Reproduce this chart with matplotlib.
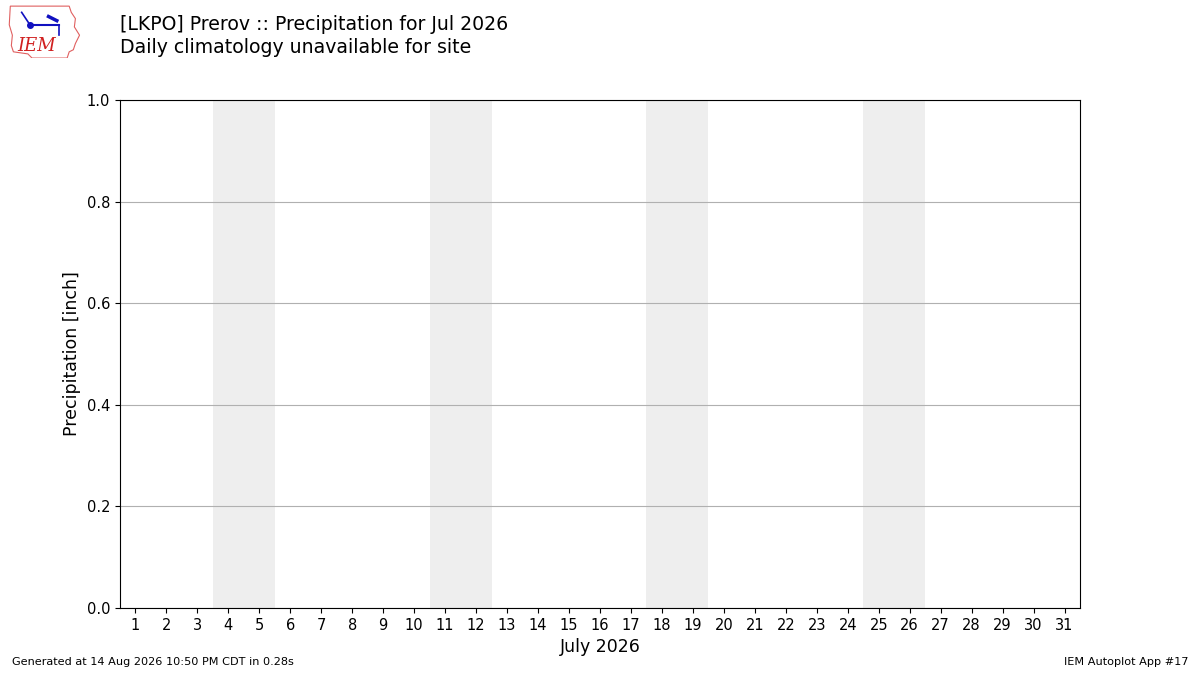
import numpy as np
import matplotlib
matplotlib.use("Agg")
import matplotlib.pyplot as plt
from matplotlib.patches import Polygon

# data: no observations available for the month
days = list(range(1, 32))
precip = [np.nan] * 31
weekend_starts = [4, 11, 18, 25]
yticks = [0.0, 0.2, 0.4, 0.6, 0.8, 1.0]

title = "[LKPO] Prerov :: Precipitation for Jul 2026\nDaily climatology unavailable for site"
footer_left = "Generated at 14 Aug 2026 10:50 PM CDT in 0.28s"
footer_right = "IEM Autoplot App #17"

fig = plt.figure(figsize=(12, 6.75), dpi=100)
ax = fig.add_axes([0.1, 0.0993, 0.8, 0.7526])

for d in weekend_starts:
    ax.axvspan(d - 0.5, d + 1.5, color="#eeeeee", zorder=0, lw=0)

ax.bar(days, precip, color="b", zorder=2)

ax.set_xlim(0.5, 31.5)
ax.set_ylim(0, 1.0)
ax.set_xticks(days)
ax.set_xticklabels([str(d) for d in days])
ax.set_yticks(yticks)
ax.tick_params(labelsize=10.5)
ax.yaxis.grid(True, color="#b0b0b0", lw=0.8, zorder=1)
ax.set_axisbelow(True)
ax.set_ylabel("Precipitation [inch]", fontsize=12.5)
ax.set_xlabel("July 2026", fontsize=12.5)

fig.text(0.1, 0.978, title, fontsize=13.6, va="top", ha="left", linespacing=1.25)
fig.text(0.01, 0.012, footer_left, fontsize=8.15, ha="left", va="bottom")
fig.text(0.99, 0.012, footer_right, fontsize=8.15, ha="right", va="bottom")

# rough IEM logo
lax = fig.add_axes([0.006, 0.914, 0.062, 0.08])
lax.set_xlim(0, 72)
lax.set_ylim(52, 0)
lax.axis("off")
outline = [(3, 2), (60, 2), (62, 8), (66, 14), (65, 22), (70, 30), (66, 38), (64, 44),
           (60, 46), (58, 52), (24, 52), (20, 48), (6, 46), (4, 40), (5, 30), (2, 20), (3, 2)]
lax.add_patch(Polygon(outline, closed=True, fill=False, ec="#e06060", lw=0.8))
lax.plot([22, 50], [20, 20], color="#1010c0", lw=1.5)
lax.plot([14, 22], [8, 20], color="#1010c0", lw=1.2)
lax.plot([50, 50], [20, 30], color="#1010c0", lw=1.2)
lax.plot([40, 48], [12, 16], color="#1010c0", lw=2.5)
lax.plot([22], [20], "o", color="#1010c0", ms=4)
lax.text(28, 40, "IEM", color="#d02020", fontsize=13, family="DejaVu Serif",
         style="italic", ha="center", va="center")

fig.savefig("out.png", dpi=100)
